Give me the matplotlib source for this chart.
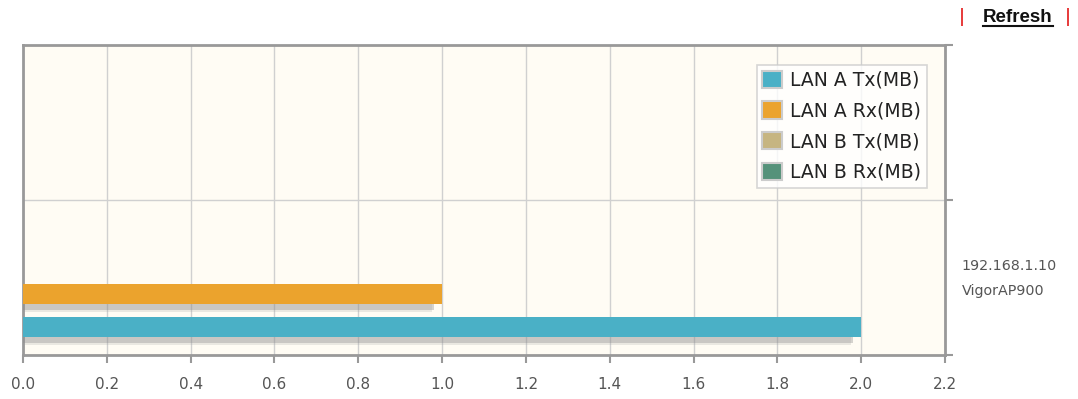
import matplotlib
matplotlib.use("Agg")
import matplotlib.pyplot as plt
import matplotlib.patheffects as pe
from matplotlib.patches import Patch
from matplotlib.lines import Line2D
import numpy as np

categories = ["192.168.1.10\nVigorAP900"]
series_names = ["LAN A Tx(MB)", "LAN A Rx(MB)", "LAN B Tx(MB)", "LAN B Rx(MB)"]
series_values = {
    "LAN A Tx(MB)": [2.0],
    "LAN A Rx(MB)": [1.0],
    "LAN B Tx(MB)": [0.0],
    "LAN B Rx(MB)": [0.0],
}
colors = ["#4AB0C6", "#EBA32D", "#C6B581", "#55927A"]
x_ticks = [0.0, 0.2, 0.4, 0.6, 0.8, 1.0, 1.2, 1.4, 1.6, 1.8, 2.0, 2.2]

fig = plt.figure(figsize=(10.78, 3.99), dpi=100)
ax = fig.add_axes([23/1078, 1-355/399, (945-23)/1078, (355-45)/399])
ax.set_facecolor("#FFFCF4")

n = len(series_names)
bar_h = 0.13
step = 0.213
for ci, cat in enumerate(categories):
    for si, name in enumerate(series_names):
        y = ci + 0.5 + (si - (n - 1) / 2) * step
        v = series_values[name][ci]
        if v <= 0:
            continue
        ax.barh(y, v, height=bar_h, color=colors[si], zorder=3,
                path_effects=[pe.SimplePatchShadow(offset=(-6, -4), shadow_rgbFace="#888888", alpha=0.35),
                              pe.SimplePatchShadow(offset=(-7, -6), shadow_rgbFace="#999999", alpha=0.2),
                              pe.Normal()])

ax.set_xlim(0, 2.2)
ax.set_ylim(0, 2)
ax.set_xticks(x_ticks)
ax.set_xticklabels([f"{t:.1f}" for t in x_ticks])
ax.set_yticks([0, 1, 2])
ax.set_yticks([0.54], minor=True)
ax.yaxis.tick_right()
ax.set_yticklabels(["", "", ""])
ax.set_yticklabels(categories, minor=True, linespacing=2.0)
ax.tick_params(axis="y", which="minor", length=0, pad=12, labelsize=10.3, labelcolor="#555555")
ax.tick_params(axis="y", which="major", length=6, width=1.5, color="#999999", direction="out")
ax.tick_params(axis="x", length=6, width=1.5, color="#999999", labelsize=11, labelcolor="#555555", pad=10)
ax.grid(True, axis="x", color="#D0D0D0", linewidth=1, zorder=0)
ax.axhline(1, color="#D0D0D0", linewidth=1, zorder=0)
ax.set_axisbelow(True)
for s in ax.spines.values():
    s.set_color("#999999")
    s.set_linewidth(2)

handles = [Patch(facecolor=c, edgecolor="#CCCCCC", linewidth=1.5) for c in colors]
leg = ax.legend(handles, series_names, loc="upper right", bbox_to_anchor=(927/1078, 1-65/399),
                bbox_transform=fig.transFigure, fontsize=13.5, frameon=True, fancybox=False,
                handlelength=1.05, handleheight=1.05, handletextpad=0.45, labelspacing=0.62,
                borderpad=0.3, borderaxespad=0, labelcolor="#222222")
leg.get_frame().set_edgecolor("#CCCCCC")
leg.get_frame().set_facecolor("white")
leg.get_frame().set_linewidth(1.2)

fig.text(962/1078, 1-17/399, "|", color="#E00000", fontsize=13, ha="center", va="center")
fig.text(1068/1078, 1-17/399, "|", color="#E00000", fontsize=13, ha="center", va="center")
t = fig.text(1018/1078, 1-17/399, "Refresh", color="#111111", fontsize=13.5, fontweight="bold",
             ha="center", va="center", family="Liberation Sans")
fig.canvas.draw()
bb = t.get_window_extent().transformed(fig.transFigure.inverted())
fig.add_artist(Line2D([bb.x0, bb.x1], [bb.y0 - 0.001, bb.y0 - 0.001], color="#111111",
                      linewidth=1.5, transform=fig.transFigure))

fig.savefig("out.png", dpi=100, facecolor="white")
